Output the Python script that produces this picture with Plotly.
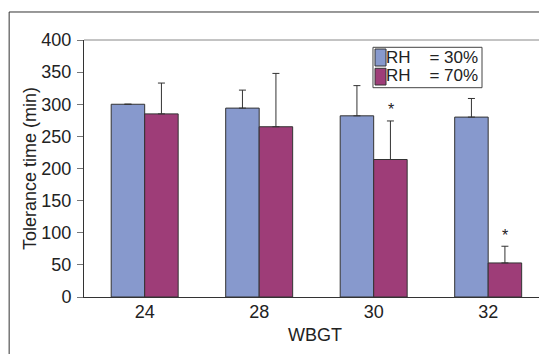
import plotly.graph_objects as go

categories = ["24", "28", "30", "32"]
rh30_values = [300, 294, 282, 280]
rh30_errors = [0, 28, 47, 29]
rh70_values = [285, 265, 214, 53]
rh70_errors = [48, 83, 60, 26]
significant_70 = [False, False, True, True]
series_names = ["RH\u00a0\u00a0\u00a0\u00a0= 30%", "RH\u00a0\u00a0\u00a0\u00a0= 70%"]

FONT = "Liberation Sans, Arial, Helvetica, sans-serif"
BLUE = "#8799CD"
MAGENTA = "#9E3D78"
EDGE = "#333333"
series_colors = [BLUE, MAGENTA]

fig = go.Figure()
fig.add_trace(go.Bar(
    x=categories, y=rh30_values, name=series_names[0],
    marker=dict(color=BLUE, line=dict(color=EDGE, width=1)),
    error_y=dict(type="data", symmetric=False, array=rh30_errors,
                 arrayminus=[0] * len(rh30_values),
                 color=EDGE, thickness=1, width=3.5),
))
fig.add_trace(go.Bar(
    x=categories, y=rh70_values, name=series_names[1],
    marker=dict(color=MAGENTA, line=dict(color=EDGE, width=1)),
    error_y=dict(type="data", symmetric=False, array=rh70_errors,
                 arrayminus=[0] * len(rh70_values),
                 color=EDGE, thickness=1, width=3.5),
))

annotations = []
for i, (v, e, sig) in enumerate(zip(rh70_values, rh70_errors, significant_70)):
    if sig:
        annotations.append(dict(
            x=i, y=v + e, xref="x", yref="y", text="*", showarrow=False,
            xshift=17, yshift=11, yanchor="middle",
            font=dict(family=FONT, size=16, color="#222"),
        ))

shapes = [
    # outer figure frame
    dict(type="rect", xref="paper", yref="paper", x0=-0.162, x1=1.3,
         y0=-0.6, y1=1.109, line=dict(color="#333", width=1)),
    # top and right border of plot area
    dict(type="line", xref="paper", yref="paper", x0=0, x1=1, y0=1, y1=1,
         line=dict(color="#888", width=1)),
    dict(type="line", xref="paper", yref="paper", x0=1, x1=1, y0=0, y1=1,
         line=dict(color="#888", width=1)),
    # compact legend box
    dict(type="rect", xref="paper", yref="paper", x0=0.6255, x1=0.8615,
         y0=0.8144, y1=0.9716, line=dict(color="#444", width=1),
         fillcolor="white", layer="above"),
]

# compact legend entries (swatch + label), one row per series
legend_rows = [(0.965, 0.8988, 0.9308), (0.8899, 0.8249, 0.8620)]
for name, color, (top, bottom, mid) in zip(series_names, series_colors, legend_rows):
    shapes.append(dict(type="rect", xref="paper", yref="paper",
                       x0=0.6299, x1=0.6537, y0=bottom, y1=top,
                       fillcolor=color, line=dict(color=EDGE, width=1),
                       layer="above"))
    annotations.append(dict(x=0.6494, y=mid, xref="paper", yref="paper",
                            text=name, showarrow=False, xanchor="left",
                            yanchor="middle",
                            font=dict(family=FONT, size=17, color="#222")))

# the page body has an 8px default margin, so the figure is sized to fit
fig.update_layout(
    width=539, height=346,
    margin=dict(l=76, r=1, t=32, b=57, autoexpand=False),
    paper_bgcolor="white", plot_bgcolor="white",
    font=dict(family=FONT, size=18, color="#222"),
    barmode="group", bargap=0.415, bargroupgap=0,
    showlegend=False,
    annotations=annotations,
    shapes=shapes,
)
fig.update_xaxes(
    type="category", range=[-0.53, 3.505], automargin=False,
    showline=True, linecolor="#333", linewidth=1,
    ticks="", showgrid=False, zeroline=False,
    tickfont=dict(size=18), ticklabelstandoff=-2,
    title=dict(text="WBGT", font=dict(size=18), standoff=7),
)
fig.update_yaxes(
    range=[0, 400], dtick=50, automargin=False,
    showline=True, linecolor="#333", linewidth=1,
    ticks="outside", ticklen=6, tickcolor="#777",
    showgrid=False, zeroline=False,
    tickfont=dict(size=18), ticklabelstandoff=2,
    title=dict(text="Tolerance time (min)", font=dict(size=18), standoff=0),
)

fig.write_html("out.html")
